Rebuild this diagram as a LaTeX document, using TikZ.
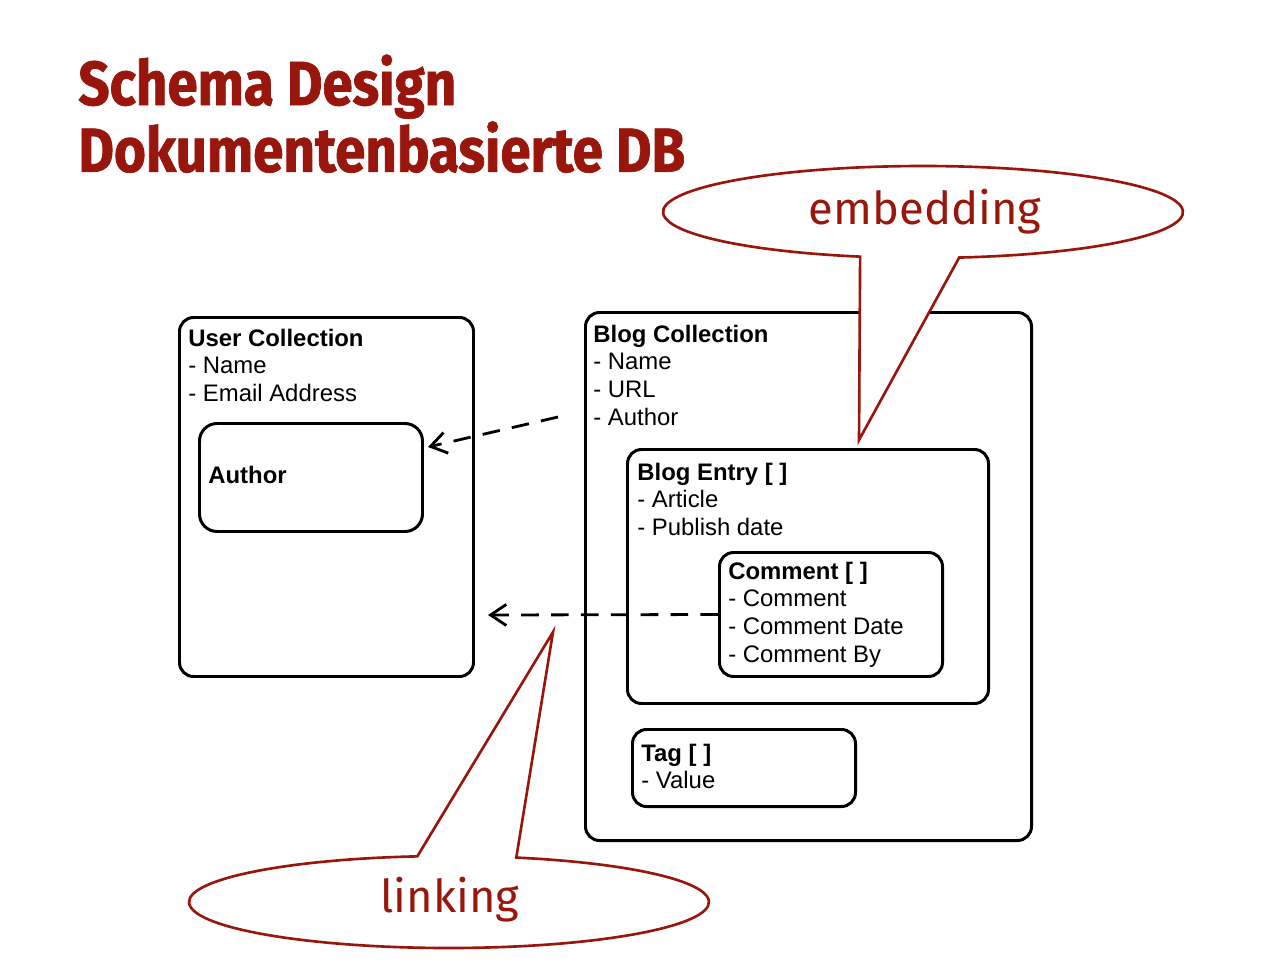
\documentclass[tikz,border=0pt]{standalone}
\usepackage{fontspec}
\setmainfont{Liberation Sans}
\newfontfamily\titlefont{Fira Sans}[FakeStretch=0.88,FakeBold=1.2]
\newfontfamily\bubblefont{Fira Sans}
\usetikzlibrary{arrows.meta,calc}
\definecolor{hsred}{RGB}{152,22,12}
\newcommand{\entlines}[1]{\vtop{\baselineskip=15.87pt\lineskiplimit=-20pt #1}}
\begin{document}
\begin{tikzpicture}[x=0.02cm,y=0.02cm,
  wh/.style 2 args={minimum width=#1*0.02cm, minimum height=#2*0.02cm},
  ebox/.style={draw=black, line width=1.7pt, rounded corners=8pt, anchor=north west, inner sep=0pt},
  lbl/.style={anchor=base west, inner sep=0pt, font=\fontsize{13.6}{15.87}\selectfont},
  linkarrow/.style={draw=black, line width=1.6pt, dash pattern=on 10pt off 7pt,
    -{Straight Barb[length=9pt,width=12pt,line width=1.6pt]}},
  bubble/.style={draw=hsred, fill=white, line width=1.5pt, line join=miter},
  bubbletext/.style={text=hsred, font=\bubblefont\fontsize{25.8}{30}\selectfont, inner sep=0pt}
]
\fill[white] (0,0) rectangle (1280,-960);
\useasboundingbox (0,0) rectangle (1280,-960);

% title
\node[anchor=base west, inner sep=0pt, text=hsred] (title) at (78,-105)
  {\titlefont\bfseries\fontsize{35.4}{38}\selectfont\vtop{\baselineskip=38pt\hbox{Schema Design}\hbox{Dokumentenbasierte DB}}};

% user collection
\node[ebox, wh={294}{359}] (user) at (178,-316) {};
\node[lbl] (usertxt) at (188,-346) {\entlines{\hbox{\bfseries User Collection}\hbox{- Name}\hbox{- Email Address}}};
\node[ebox, wh={223}{108}, rounded corners=10pt] (author) at (198,-422) {};
\node[lbl] (authortxt) at (208,-483) {\bfseries Author};

% blog collection
\node[ebox, wh={446}{528}] (blog) at (584,-311) {};
\node[lbl] (blogtxt) at (593,-342) {\entlines{\hbox{\bfseries Blog Collection}\hbox{- Name}\hbox{- URL}\hbox{- Author}}};
\node[ebox, wh={361}{254}] (entry) at (626,-448) {};
\node[lbl] (entrytxt) at (637,-480) {\entlines{\hbox{\bfseries Blog Entry [ ]}\hbox{- Article}\hbox{- Publish date}}};
\node[ebox, wh={223}{124}] (comment) at (718,-551) {};
\node[lbl] (commenttxt) at (728,-579) {\entlines{\hbox{\bfseries Comment [ ]}\hbox{- Comment}\hbox{- Comment Date}\hbox{- Comment By}}};
\node[ebox, wh={223}{77}] (tag) at (631,-728) {};
\node[lbl] (tagtxt) at (641,-761) {\entlines{\hbox{\bfseries Tag [ ]}\hbox{- Value}}};

% links
\coordinate (a1s) at (558,-417);
\coordinate (a1e) at (428,-447);
\coordinate (a2e) at (488,-615);
\draw[linkarrow] (a1s) -- (a1e);
\draw[linkarrow] (comment.west) -- (a2e);

% embedding bubble
\coordinate (ec) at (923,-212);
\coordinate (etip) at (859,-440);
\draw[bubble] ($(ec)+(-82:5.2cm and 0.92cm)$) arc[start angle=-82, end angle=256, x radius=5.2cm, y radius=0.92cm] -- (etip) -- cycle;
\node[bubbletext] (embed) at (925,-212) {embedding};

% linking bubble
\coordinate (lc) at (449,-902);
\coordinate (ltip) at (553,-632);
\draw[bubble] ($(lc)+(97:5.2cm and 0.92cm)$) arc[start angle=97, end angle=435, x radius=5.2cm, y radius=0.92cm] -- (ltip) -- cycle;
\node[bubbletext] (link) at (450,-900) {linking};
\end{tikzpicture}
\end{document}
